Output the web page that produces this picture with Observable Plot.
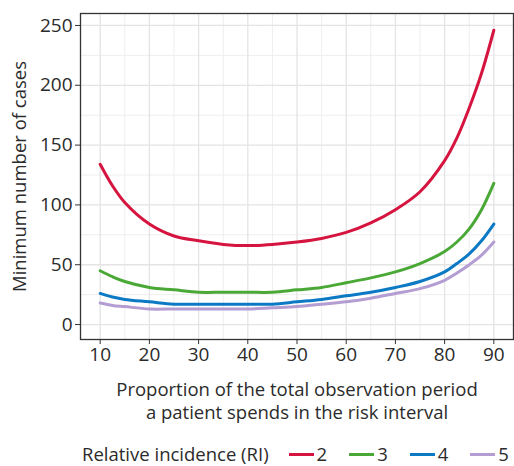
<!DOCTYPE html>
<html>
<head>
<meta charset="utf-8">
<script src="https://cdn.jsdelivr.net/npm/d3@7"></script>
<script src="https://cdn.jsdelivr.net/npm/@observablehq/plot@0.6"></script>
<style>
  html, body { margin: 0; padding: 0; background: #fff; overflow: hidden; }
  body { font-family: "Open Sans", sans-serif; color: #2b2b2b; }
  #legend { display: flex; align-items: center; height: 22px; padding-top: 3px; padding-left: 82px; font-size: 18.5px; line-height: 1; color: #2b2b2b; white-space: nowrap; }
  .key { display: inline-flex; align-items: center; margin-left: 22px; }
  .key.first { margin-left: 20px; }
  .key span.sw { display: inline-block; width: 25px; height: 3px; margin-right: 3px; }
</style>
</head>
<body>
<div id="chart"></div>
<div id="legend"></div>
<script>
const proportion = [10, 12.5, 15, 20, 25, 30, 35, 40, 45, 50, 55, 60, 65, 70, 75, 80, 82.5, 85, 87.5, 90];
const ri2 = [134, 116, 102, 84, 74, 70, 67, 66, 67, 69, 72, 77, 85, 96, 111, 137, 156, 181, 210, 246];
const ri3 = [45, 40, 36, 31, 29, 27, 27, 27, 27, 29, 31, 35, 39, 44, 51, 61, 69, 80, 96, 118];
const ri4 = [26, 23, 21, 19, 17, 17, 17, 17, 17, 19, 21, 24, 27, 31, 36, 44, 51, 59, 70, 84];
const ri5 = [18, 16, 15, 13, 13, 13, 13, 13, 14, 15, 17, 19, 22, 26, 30, 37, 43, 50, 58, 69];
const riLevels = ["2", "3", "4", "5"];
const riColors = ["#d5143f", "#4aa936", "#0b79c4", "#b39dd2"];
const xTicks = [10, 20, 30, 40, 50, 60, 70, 80, 90];
const yTicks = [0, 50, 100, 150, 200, 250];
const xMinor = [15, 25, 35, 45, 55, 65, 75, 85];
const yMinor = [25, 75, 125, 175, 225];

const series = [ri2, ri3, ri4, ri5];
const rows = [];
series.forEach((vals, i) => vals.forEach((v, j) => rows.push({x: proportion[j], y: v, ri: riLevels[i]})));

const plot = Plot.plot({
  width: 514,
  height: 440,
  marginLeft: 80,
  marginRight: 1,
  marginTop: 13,
  marginBottom: 101,
  style: {fontFamily: "Open Sans, sans-serif", fontSize: "19px", color: "#2b2b2b", background: "#fff"},
  x: {domain: [6, 94], label: null},
  y: {domain: [-12.5, 260], label: null},
  color: {domain: riLevels, range: riColors},
  marks: [
    Plot.ruleX(xMinor, {stroke: "#eeeeee", strokeWidth: 1}),
    Plot.ruleY(yMinor, {stroke: "#eeeeee", strokeWidth: 1}),
    Plot.ruleX(xTicks, {stroke: "#e4e4e4", strokeWidth: 1.3}),
    Plot.ruleY(yTicks, {stroke: "#e4e4e4", strokeWidth: 1.3}),
    Plot.line(rows, {x: "x", y: "y", z: "ri", stroke: "ri", strokeWidth: 3, curve: "catmull-rom"}),
    Plot.frame({stroke: "#333", strokeWidth: 1.3}),
    Plot.axisX(xTicks, {tickSize: 5, stroke: "#333", fill: "#2b2b2b", fontSize: 19, tickPadding: 3, label: null}),
    Plot.axisY(yTicks, {tickSize: 5, stroke: "#333", fill: "#2b2b2b", fontSize: 19, tickPadding: 3, label: null}),
    Plot.text(["Proportion of the total observation period\na patient spends in the risk interval"], {
      frameAnchor: "bottom", dy: 61, lineAnchor: "middle", fontSize: 18.5, fill: "#2b2b2b", lineHeight: 1.25
    }),
    Plot.text(["Minimum number of cases"], {
      frameAnchor: "left", dx: -60, rotate: -90, textAnchor: "middle", fontSize: 18.5, fill: "#2b2b2b"
    })
  ]
});
document.getElementById("chart").appendChild(plot);

const legend = document.getElementById("legend");
const title = document.createElement("span");
title.textContent = "Relative incidence (RI)";
legend.appendChild(title);
riLevels.forEach((lv, i) => {
  const k = document.createElement("span");
  k.className = i === 0 ? "key first" : "key";
  k.innerHTML = `<span class="sw" style="background:${riColors[i]}"></span><span>${lv}</span>`;
  legend.appendChild(k);
});
</script>
</body>
</html>
